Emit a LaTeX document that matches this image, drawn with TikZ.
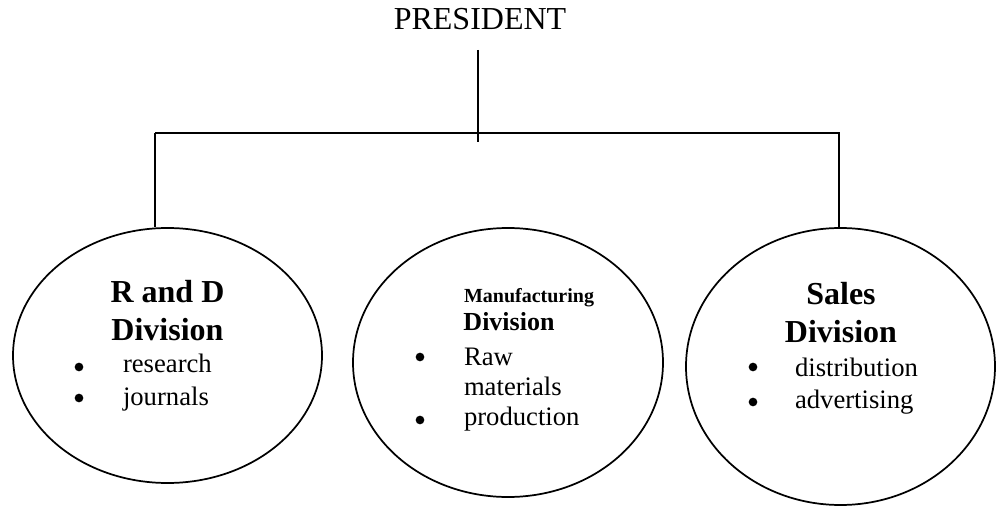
\documentclass[tikz,border=0pt]{standalone}
\usepackage{fontspec}
\setmainfont{Liberation Serif}
\usetikzlibrary{shapes.geometric}
\begin{document}
\begin{tikzpicture}[x=0.75pt,y=-0.75pt,
  line width=1.5pt,
  division/.style={draw, ellipse, line width=1.3pt, inner sep=0pt},
  txt/.style={inner sep=0pt},
  headtxt/.style={txt, anchor=base, font=\fontsize{24}{28}\selectfont\bfseries},
  itemtxt/.style={txt, anchor=base west, font=\fontsize{20}{24}\selectfont},
  bullet/.style={circle, fill=black, inner sep=0pt, minimum size=6.5pt},
  link/.style={line width=1.5pt}]
\useasboundingbox (0,0) rectangle (997,506);

% head of the chart
\node[txt, anchor=base, font=\fontsize{24}{28}\selectfont] (pres) at (480,30) {PRESIDENT};

% the three divisions
\node[division, minimum width=231.75pt, minimum height=191.25pt] (rd) at (167.5,355.5) {};
\node[division, minimum width=232.5pt, minimum height=201.75pt] (mf) at (508,362.5) {};
\node[division, minimum width=231.75pt, minimum height=207.75pt] (sl) at (840.5,366.5) {};

% connecting lines
\coordinate (stemtop) at (478,50);
\coordinate (stembot) at (478,142);
\coordinate (barL) at (155,133);
\coordinate (barR) at (840,133);
\draw[link] (stemtop) -- (stembot);
\draw[link] (barL) -- (barR);
\draw[link] (barL) -- (barL |- rd.north);
\draw[link] (barR) ++(-1,0) coordinate (dropR) -- (dropR |- sl.north);

% R and D division
\node[headtxt] (rdh1) at (167.5,303) {R and D};
\node[headtxt] (rdh2) at (167.5,340) {Division};
\node[bullet] (rdb1) at (79,367) {};
\node[itemtxt] (rdi1) at (122,373) {research};
\node[bullet] (rdb2) at (79,398) {};
\node[itemtxt] (rdi2) at (122,405) {journals};

% Manufacturing division
\node[headtxt, font=\fontsize{15}{18}\selectfont\bfseries] (mfh1) at (529,303) {Manufacturing};
\node[headtxt, font=\fontsize{19.5}{22}\selectfont\bfseries] (mfh2) at (509,330) {Division};
\node[bullet] (mfb1) at (420,357) {};
\node[itemtxt] (mfi1) at (463,365) {Raw};
\node[itemtxt] (mfi2) at (463,395) {materials};
\node[bullet] (mfb2) at (420,420) {};
\node[itemtxt] (mfi3) at (463,425) {production};

% Sales division
\node[headtxt] (slh1) at (841,305) {Sales};
\node[headtxt] (slh2) at (841,342) {Division};
\node[bullet] (slb1) at (753,367) {};
\node[itemtxt] (sli1) at (794,376) {distribution};
\node[bullet] (slb2) at (753,402) {};
\node[itemtxt] (sli2) at (794,408) {advertising};
\end{tikzpicture}
\end{document}
